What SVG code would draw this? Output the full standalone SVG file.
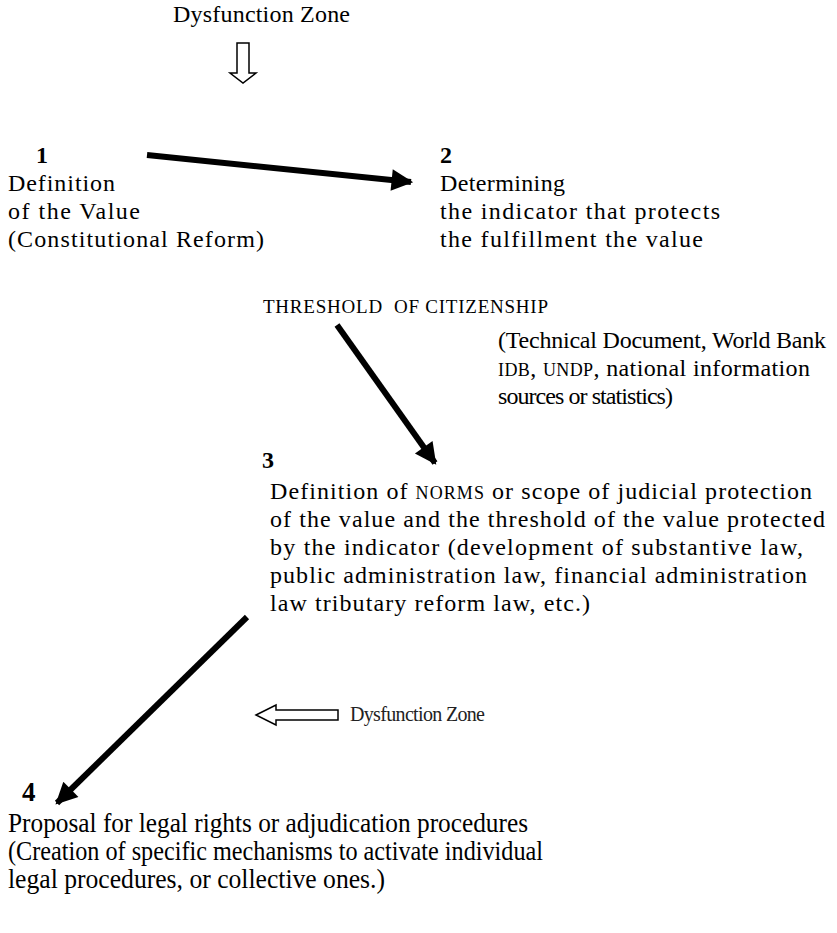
<svg xmlns="http://www.w3.org/2000/svg" width="837" height="933" viewBox="0 0 837 933">
<defs>
<style>
text{font-family:"Liberation Serif","Times New Roman",serif;font-size:24px;fill:#000}
.num{font-weight:bold}
.sc{font-size:18px}
.th{font-size:19px}
.small{font-size:20px;fill:#222}
.cond{font-size:27px}
.conn{stroke:#000;stroke-width:6;fill:none;stroke-linecap:butt}
.hollow{fill:#fff;stroke:#000;stroke-width:1.5;stroke-linejoin:miter}
</style>
<marker id="ah" viewBox="0 0 10 10" refX="9" refY="5" markerWidth="4" markerHeight="3.6" orient="auto" markerUnits="strokeWidth">
<path d="M0,0 L10,5 L0,10 z" fill="#000"/>
</marker>
</defs>
<rect width="837" height="933" fill="#fff"/>

<g id="dz-top">
<text x="173" y="22" textLength="177" lengthAdjust="spacing">Dysfunction Zone</text>
<path class="hollow" d="M237,43 L249,43 L249,73 L256,73 L243,83 L230,73 L237,73 Z"/>
</g>

<g id="node1">
<text class="num" x="36" y="163">1</text>
<text x="8" y="191" textLength="107" lengthAdjust="spacing">Definition</text>
<text x="8" y="219" textLength="132" lengthAdjust="spacing">of the Value</text>
<text x="8" y="247" textLength="256" lengthAdjust="spacing">(Constitutional Reform)</text>
</g>

<g id="node2">
<text class="num" x="440" y="163">2</text>
<text x="440" y="191" textLength="125" lengthAdjust="spacing">Determining</text>
<text x="440" y="219" textLength="280" lengthAdjust="spacing">the indicator that protects</text>
<text x="440" y="247" textLength="263" lengthAdjust="spacing">the fulfillment the value</text>
</g>

<g id="threshold">
<text class="th" x="263" y="313" textLength="285" lengthAdjust="spacing" xml:space="preserve">THRESHOLD  OF CITIZENSHIP</text>
</g>

<g id="sources">
<text x="498" y="348" textLength="328" lengthAdjust="spacing">(Technical Document, World Bank</text>
<text x="498" y="376" textLength="312" lengthAdjust="spacing"><tspan class="sc">IDB</tspan>, <tspan class="sc">UNDP</tspan>, national information</text>
<text x="498" y="404" textLength="175" lengthAdjust="spacing">sources or statistics)</text>
</g>

<g id="node3">
<text class="num" x="262" y="468">3</text>
<text x="270" y="499" textLength="542" lengthAdjust="spacing">Definition of <tspan class="sc">NORMS</tspan> or scope of judicial protection</text>
<text x="270" y="527" textLength="555" lengthAdjust="spacing">of the value and the threshold of the value protected</text>
<text x="270" y="555" textLength="533" lengthAdjust="spacing">by the indicator (development of substantive law,</text>
<text x="270" y="583" textLength="537" lengthAdjust="spacing">public administration law, financial administration</text>
<text x="270" y="611" textLength="320" lengthAdjust="spacing">law tributary reform law, etc.)</text>
</g>

<g id="dz-mid">
<path class="hollow" d="M256,715 L276,705 L276,710 L338,710 L338,720 L276,720 L276,725 Z"/>
<text class="small" x="350" y="721" textLength="135" lengthAdjust="spacing">Dysfunction Zone</text>
</g>

<g id="node4">
<text class="num cond" x="22" y="801">4</text>
<text class="cond" x="8" y="832" textLength="520" lengthAdjust="spacingAndGlyphs">Proposal for legal rights or adjudication procedures</text>
<text class="cond" x="8" y="860" textLength="535" lengthAdjust="spacingAndGlyphs">(Creation of specific mechanisms to activate individual</text>
<text class="cond" x="8" y="888" textLength="377" lengthAdjust="spacingAndGlyphs">legal procedures, or collective ones.)</text>
</g>

<g id="connectors">
<line class="conn" x1="147" y1="155" x2="411" y2="182" marker-end="url(#ah)"/>
<line class="conn" x1="337" y1="325" x2="435" y2="463" marker-end="url(#ah)"/>
<line class="conn" x1="247" y1="617" x2="57" y2="803" marker-end="url(#ah)"/>
</g>
</svg>
